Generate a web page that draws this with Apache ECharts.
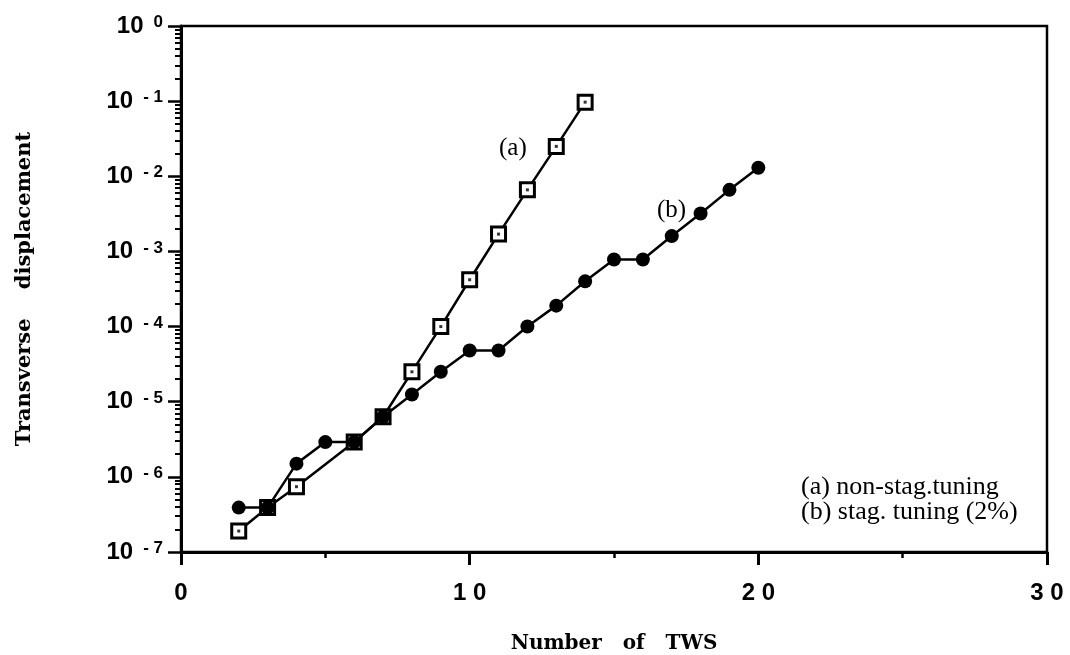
<!DOCTYPE html>
<html><head><meta charset="utf-8">
<script src="https://cdn.jsdelivr.net/npm/echarts@6/dist/echarts.min.js"></script>
<style>html,body{margin:0;padding:0;background:#fff}#c{width:1070px;height:655px}</style>
</head><body><div id="c"></div>
<script>
// ---- data ----
const xTicks = [0, 10, 20, 30];
const yDecades = [1e-7, 1e-6, 1e-5, 1e-4, 1e-3, 1e-2, 1e-1, 1];
const xA = [2, 3, 4, 6, 7, 8, 9, 10, 11, 12, 13, 14];
const yA = [1.9e-7, 3.9e-7, 7.4e-7, 2.9e-6, 6.3e-6, 2.5e-5, 1.0e-4, 4.2e-4, 1.7e-3, 6.6e-3, 2.5e-2, 9.7e-2];
const xB = [2, 3, 4, 5, 6, 7, 8, 9, 10, 11, 12, 13, 14, 15, 16, 17, 18, 19, 20];
const yB = [3.9e-7, 3.9e-7, 1.5e-6, 2.9e-6, 2.9e-6, 6.3e-6, 1.25e-5, 2.5e-5, 4.8e-5, 4.8e-5, 1.0e-4, 1.9e-4, 4.0e-4, 7.8e-4, 7.8e-4, 1.6e-3, 3.2e-3, 6.6e-3, 1.3e-2];
const xMinorTicks = [5, 15, 25];
const yMinor = [];
for (let e = -7; e < 0; e++) for (let m = 2; m <= 9; m++) yMinor.push(m * Math.pow(10, e));

const dataA = xA.map((x, i) => [x, yA[i]]);
const dataB = xB.map((x, i) => [x, yB[i]]);

const chart = echarts.init(document.getElementById('c'), null, {renderer: 'canvas'});
const sans = 'Liberation Sans, Arial, sans-serif';
const serif = 'DejaVu Serif, serif';
chart.setOption({
  animation: false,
  backgroundColor: '#fff',
  grid: {left: 181, right: 23, top: 26, bottom: 103, outerBoundsMode: 'none', containLabel: false,
    show: true, borderColor: '#000', borderWidth: 2.5, backgroundColor: 'transparent'},
  xAxis: [{
    type: 'value', min: 0, max: 30, interval: 10,
    axisLine: {show: true, lineStyle: {color: '#000', width: 3}},
    axisTick: {show: true, inside: false, length: 13, lineStyle: {color: '#000', width: 3}},
    axisLabel: {color: '#000', fontFamily: sans, fontWeight: 'bold', fontSize: 24, margin: 29,
      formatter: v => String(v).split('').join(' ')},
    splitLine: {show: false},
    name: 'Number   of   TWS', nameLocation: 'middle', nameGap: 82,
    nameTextStyle: {color: '#000', fontFamily: serif, fontWeight: 'bold', fontSize: 20}
  }, {
    type: 'value', min: 0, max: 30, position: 'bottom', gridIndex: 0,
    axisLine: {show: false},
    axisTick: {show: true, length: 6, customValues: xMinorTicks, lineStyle: {color: '#000', width: 2.5}},
    axisLabel: {show: false},
    splitLine: {show: false}
  }],
  yAxis: [{
    type: 'log', logBase: 10, min: 1e-7, max: 1,
    axisLine: {show: true, lineStyle: {color: '#000', width: 3}},
    axisTick: {show: true, length: 13, customValues: yDecades, lineStyle: {color: '#000', width: 2.5}},
    axisLabel: {
      customValues: yDecades, margin: 18, color: '#000',
      formatter: v => {
        const e = Math.round(Math.log10(v));
        return '{b|10}{s|' + (e < 0 ? '- ' + Math.abs(e) : String(e)) + '}';
      },
      rich: {
        b: {fontFamily: sans, fontWeight: 'bold', fontSize: 24, lineHeight: 24, verticalAlign: 'bottom', color: '#000'},
        s: {fontFamily: sans, fontWeight: 'bold', fontSize: 17, lineHeight: 18, verticalAlign: 'top', padding: [0, 0, 12, 10], color: '#000'}
      }
    },
    splitLine: {show: false},
    name: 'Transverse    displacement', nameLocation: 'middle', nameGap: 146, nameRotate: 90,
    nameTextStyle: {color: '#000', fontFamily: serif, fontWeight: 'bold', fontSize: 21}
  }, {
    type: 'log', logBase: 10, min: 1e-7, max: 1, position: 'left',
    axisLine: {show: false},
    axisTick: {show: true, length: 6, customValues: yMinor, lineStyle: {color: '#000', width: 2}},
    axisLabel: {show: false},
    splitLine: {show: false}
  }],
  graphic: [
    {type: 'text', left: 499, top: 136, style: {text: '(a)', font: '25px "Liberation Serif", serif', fill: '#000'}},
    {type: 'text', left: 657, top: 198, style: {text: '(b)', font: '25px "Liberation Serif", serif', fill: '#000'}},
    {type: 'text', left: 801, top: 474, style: {text: '(a) non-stag.tuning', font: '26px "Liberation Serif", serif', fill: '#000'}},
    {type: 'text', left: 801, top: 499, style: {text: '(b) stag. tuning (2%)', font: '26px "Liberation Serif", serif', fill: '#000'}}
  ],
  series: [
    {name: '(a)', type: 'line', data: dataA, symbol: 'rect', symbolSize: 14, z: 2,
      lineStyle: {color: '#000', width: 2.5},
      itemStyle: {color: '#fff', borderColor: '#000', borderWidth: 3}},
    {name: '(b)', type: 'line', data: dataB, symbol: 'circle', symbolSize: 14, z: 3,
      lineStyle: {color: '#000', width: 2.5},
      itemStyle: {color: '#000'}},
    {name: '(a) dot', type: 'scatter', data: dataA, symbol: 'rect', symbolSize: 3, z: 4,
      itemStyle: {color: '#000'}}
  ]
});
</script></body></html>
